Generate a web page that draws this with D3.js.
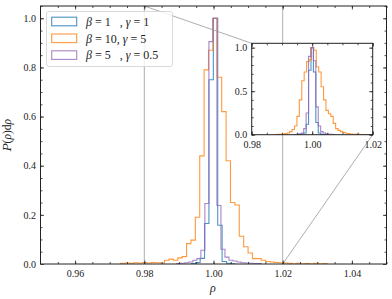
<!DOCTYPE html>
<html>
<head>
<meta charset="utf-8">
<script src="https://cdn.jsdelivr.net/npm/d3@7"></script>
<style>
  body { margin: 0; background: #fff; }
  text { font-family: "Liberation Serif", "DejaVu Serif", serif; fill: #222; }
</style>
</head>
<body>
<svg width="392" height="299"></svg>
<script>
// series labels (legend order = drawing order)
var labels = [["1", "1"], ["10", "5"], ["5", "0.5"]];
var colors = ["#1f77b4", "#ff7f0e", "#9467bd"];

// main histograms: first bin edge, bin width, normalised counts
var blueStart = 0.9936, blueWidth = 0.00127;
var blueMain = [0.002, 0.006, 0.023, 0.165, 0.75, 1.0, 0.158, 0.01, 0.003, 0.001];

var orangeStart = 0.97316, orangeWidth = 0.00127;
var orangeMain = [0.003, 0.004, 0.003, 0.005, 0.004, 0.006, 0.004, 0.006, 0.005, 0.004,
                  0.015, 0.02, 0.015, 0.025, 0.03, 0.083, 0.097, 0.19, 0.44, 0.79,
                  0.87, 1.0, 0.76, 0.62, 0.42, 0.25, 0.24, 0.113, 0.07, 0.045,
                  0.022, 0.022, 0.015, 0.01, 0.008, 0.006, 0.005, 0.004, 0.003, 0,
                  0.003, 0, 0.002, 0, 0.003, 0, 0.002];

var purpleStart = 0.98939, purpleWidth = 0.00116;
var purpleMain = [0.002, 0.003, 0.005, 0.008, 0.015, 0.022, 0.056, 0.246, 0.905, 1.0,
                  0.238, 0.06, 0.028, 0.015, 0.012, 0.008, 0.005, 0.004, 0.003, 0.002, 0.002];

// inset histograms (finer bins)
var insetWidth = 0.0008;
var blueInsetStart = 0.9956;
var blueInset = [0.003, 0.008, 0.02, 0.12, 0.74, 1.0, 0.72, 0.14, 0.02, 0.006, 0.002];
var orangeInsetStart = 0.98775;
var orangeInset = [0.003, 0.004, 0.005, 0.008, 0.012, 0.02, 0.035, 0.06, 0.10, 0.21,
                   0.40, 0.62, 0.72, 0.84, 0.86, 1.0, 0.97, 0.78, 0.72, 0.55,
                   0.40, 0.28, 0.24, 0.21, 0.13, 0.07, 0.05, 0.035, 0.025, 0.016,
                   0.012, 0.008, 0.006, 0.004, 0.005, 0.003, 0.002, 0.003, 0.002, 0.001];
var purpleInsetStart = 0.9940;
var purpleInset = [0.003, 0.006, 0.01, 0.02, 0.07, 0.25, 0.90, 1.0, 0.85, 0.32,
                   0.10, 0.035, 0.02, 0.01, 0.006, 0.004, 0.002];

// ticks
var xTicks = [0.96, 0.98, 1.00, 1.02, 1.04];
var yTicks = [0.0, 0.2, 0.4, 0.6, 0.8, 1.0];
var insetXTicks = [0.98, 1.00, 1.02];
var insetYTicks = [0.0, 0.5, 1.0];

var mainSeries = [[blueStart, blueWidth, blueMain], [orangeStart, orangeWidth, orangeMain], [purpleStart, purpleWidth, purpleMain]];
var insetSeries = [[blueInsetStart, insetWidth, blueInset], [orangeInsetStart, insetWidth, orangeInset], [purpleInsetStart, insetWidth, purpleInset]];

var svg = d3.select("svg");

function range(a, b, step) {
  var out = [];
  for (var v = a; v <= b + 1e-9; v += step) out.push(+v.toFixed(4));
  return out;
}

// step outline like histtype="step"
function stepPath(x, y, s) {
  var start = s[0], w = s[1], vals = s[2];
  var p = d3.path();
  p.moveTo(x(start), y(0));
  vals.forEach(function(v, i) {
    p.lineTo(x(start + i * w), y(v));
    p.lineTo(x(start + (i + 1) * w), y(v));
  });
  p.lineTo(x(start + vals.length * w), y(0));
  return p.toString();
}

function drawAxes(g, x, y, xt, yt, xminor, yminor, fmtx, fmty) {
  var w = x.range()[1] - x.range()[0], h = y.range()[0] - y.range()[1];
  var ax = [
    [d3.axisBottom, "translate(0," + h + ")", x, xt, xminor, fmtx],
    [d3.axisTop, "translate(0,0)", x, xt, xminor, ""],
    [d3.axisLeft, "translate(0,0)", y, yt, yminor, fmty],
    [d3.axisRight, "translate(" + w + ",0)", y, yt, yminor, ""]
  ];
  ax.forEach(function(a) {
    var minor = g.append("g").attr("transform", a[1])
      .call(a[0](a[2]).tickValues(a[4]).tickSizeInner(-2).tickSizeOuter(0).tickFormat(""));
    minor.select(".domain").remove();
    var major = g.append("g").attr("transform", a[1])
      .call(a[0](a[2]).tickValues(a[3]).tickSizeInner(-3.5).tickSizeOuter(0)
        .tickPadding(a[0] === d3.axisLeft ? 4.5 : 6)
        .tickFormat(a[5] === "" ? "" : a[5]));
    major.select(".domain").remove();
    major.selectAll("text").style("font-size", "10px").attr("fill", "#333");
    g.selectAll(".tick line").attr("stroke", "#222").attr("stroke-width", 0.8);
  });
  g.append("rect").attr("width", w).attr("height", h)
    .attr("fill", "none").attr("stroke", "#222").attr("stroke-width", 1);
}

// ---- main axes
var L = 40.5, T = 6, R = 386.5, B = 264;
var x = d3.scaleLinear().domain([0.95, 1.05]).range([0, R - L]);
var y = d3.scaleLinear().domain([0, 1.05]).range([B - T, 0]);
var g = svg.append("g").attr("transform", "translate(" + L + "," + T + ")");

g.append("clipPath").attr("id", "clipMain").append("rect")
  .attr("width", R - L).attr("height", B - T);

g.append("g").attr("clip-path", "url(#clipMain)")
  .selectAll("path").data(mainSeries).enter().append("path")
  .attr("d", function(s) { return stepPath(x, y, s); })
  .attr("fill", "none")
  .attr("stroke", function(s, i) { return colors[i]; })
  .attr("stroke-opacity", 0.8)
  .attr("stroke-width", 1.1);

// inset
var iL = 251.7, iT = 43.3, iR = 372.7, iB = 134.7;
var ix = d3.scaleLinear().domain([0.98, 1.02]).range([0, iR - iL]);
var iy = d3.scaleLinear().domain([0, 1.05]).range([iB - iT, 0]);

// zoom indicator
var ind = g.append("g").attr("stroke", "#999").attr("stroke-width", 0.8).attr("fill", "none");
ind.append("line").attr("x1", x(0.98)).attr("x2", x(0.98)).attr("y1", y(0)).attr("y2", y(1.05));
ind.append("line").attr("x1", x(1.02)).attr("x2", x(1.02)).attr("y1", y(0)).attr("y2", y(1.05));
ind.append("line").attr("x1", x(0.98)).attr("y1", y(1.05)).attr("x2", iL - L).attr("y2", iT - T);
ind.append("line").attr("x1", x(1.02)).attr("y1", y(0)).attr("x2", iR - L).attr("y2", iB - T);

drawAxes(g, x, y, xTicks, yTicks, range(0.955, 1.05, 0.005), range(0.05, 1.05, 0.05),
  d3.format(".2f"), d3.format(".1f"));

var gi = svg.append("g").attr("transform", "translate(" + iL + "," + iT + ")");
gi.append("rect").attr("width", iR - iL).attr("height", iB - iT).attr("fill", "#fff");
gi.append("clipPath").attr("id", "clipInset").append("rect")
  .attr("width", iR - iL).attr("height", iB - iT);
gi.append("g").attr("clip-path", "url(#clipInset)")
  .selectAll("path").data(insetSeries).enter().append("path")
  .attr("d", function(s) { return stepPath(ix, iy, s); })
  .attr("fill", "none")
  .attr("stroke", function(s, i) { return colors[i]; })
  .attr("stroke-opacity", 0.8)
  .attr("stroke-width", 1.1);
drawAxes(gi, ix, iy, insetXTicks, insetYTicks, range(0.98, 1.02, 0.005), range(0, 1.0, 0.1),
  d3.format(".2f"), d3.format(".1f"));

// axis labels
svg.append("text").attr("x", 213).attr("y", 292).attr("text-anchor", "middle")
  .style("font-size", "12px").style("font-style", "italic").text("ρ");

var yl = svg.append("text").attr("transform", "translate(11,135) rotate(-90)")
  .attr("text-anchor", "middle").style("font-size", "11.5px");
yl.append("tspan").style("font-style", "italic").style("font-family", "DejaVu Serif").text("P");
yl.append("tspan").text("(");
yl.append("tspan").style("font-style", "italic").text("ρ");
yl.append("tspan").text(")d");
yl.append("tspan").style("font-style", "italic").text("ρ");

// legend
var lg = svg.append("g");
lg.append("rect").attr("x", 46.5).attr("y", 11.5).attr("width", 126).attr("height", 55)
  .attr("rx", 2.5).attr("fill", "#fff").attr("fill-opacity", 0.8)
  .attr("stroke", "#d0d0d0").attr("stroke-width", 0.8);
labels.forEach(function(lab, i) {
  var cy = 21.5 + i * 16.8;
  lg.append("rect").attr("x", 51.7).attr("y", cy - 4.3).attr("width", 25).attr("height", 8.6)
    .attr("fill", "none").attr("stroke", colors[i]).attr("stroke-opacity", 0.8).attr("stroke-width", 1.1);
  var t = lg.append("text").attr("x", 86).attr("y", cy + 4.2).style("font-size", "12px")
    .style("white-space", "pre").attr("fill", "#333");
  t.append("tspan").style("font-style", "italic").text("β");
  t.append("tspan").text(" = " + lab[0] + (lab[0].length === 1 ? "   " : "") + ", ");
  t.append("tspan").style("font-style", "italic").text("γ");
  t.append("tspan").text(" = " + lab[1]);
});
</script>
</body>
</html>
